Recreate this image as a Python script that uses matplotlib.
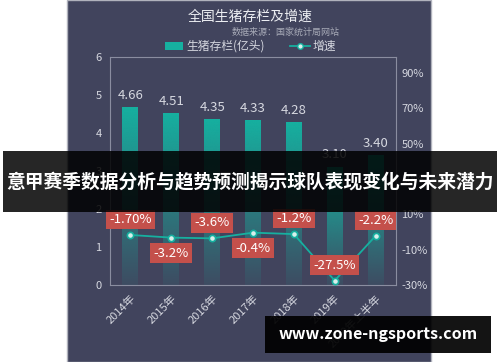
import numpy as np
import matplotlib.pyplot as plt
from matplotlib.patches import Rectangle
from matplotlib.lines import Line2D

plt.rcParams['font.family'] = ['Noto Sans CJK SC', 'DejaVu Sans']

years = ['2014年', '2015年', '2016年', '2017年', '2018年', '2019年', '2020年上半年']
stock = [4.66, 4.51, 4.35, 4.33, 4.28, 3.10, 3.40]
growth = [-1.7, -3.2, -3.6, -0.4, -1.2, -27.5, -2.2]
growth_labels = ['-1.70%', '-3.2%', '-3.6%', '-0.4%', '-1.2%', '-27.5%', '-2.2%']
label_above = [True, False, True, False, True, True, True]
left_ticks = [0, 1, 2, 3, 4, 5, 6]
right_ticks = [-30, -10, 10, 30, 50, 70, 90]

PANEL = '#41445d'
TEAL = '#16b0a0'
TXT = '#d6d8e0'
RED = '#c4504b'


def main():
    fig = plt.figure(figsize=(5, 3.62), dpi=100)
    fig.patch.set_facecolor('white')
    fig.patches.append(Rectangle((0.134, 0.0), 0.728, 1.0, transform=fig.transFigure,
                                 facecolor=PANEL, edgecolor='#b0b2bc', lw=1.0, zorder=-5))

    ax = fig.add_axes([0.22, 0.2127, 0.572, 0.63])
    ax.set_facecolor('none')
    x = np.arange(len(years))
    w = 0.39

    # gradient bars
    grad = np.zeros((100, 1, 4))
    rgb = np.array([0x16, 0xb0, 0xa0]) / 255
    grad[:, 0, :3] = rgb
    grad[:, 0, 3] = np.linspace(1.0, 0.08, 100)
    for xi, v in zip(x, stock):
        ax.imshow(grad, extent=(xi - w / 2, xi + w / 2, 0, v), aspect='auto',
                  interpolation='bicubic', zorder=2)
        ax.text(xi, v + 0.15, f'{v:.2f}', ha='center', va='bottom', color=TXT, fontsize=9.5)
    ax.set_xlim(-0.5, len(years) - 0.5)
    ax.set_ylim(0, 6)

    ax.set_yticks(left_ticks)
    ax.set_xticks(x)
    ax.set_xticklabels(years, rotation=45, ha='right', rotation_mode='anchor')
    ax.tick_params(colors=TXT, labelsize=8, length=0, pad=6)
    for s in ax.spines.values():
        s.set_color('#8a8da0')
        s.set_linewidth(0.8)

    ax2 = ax.twinx()
    ax2.set_ylim(-30, 99)
    ax2.set_yticks(right_ticks)
    ax2.set_yticklabels([f'{t}%' for t in right_ticks])
    ax2.tick_params(colors=TXT, labelsize=8, length=0, pad=4)
    for s in ax2.spines.values():
        s.set_visible(False)
    ax2.plot(x, growth, color=TEAL, lw=1.3, marker='o', markersize=4.5,
             markerfacecolor='#d8f0ec', markeredgecolor=TEAL, markeredgewidth=1.2, zorder=4)
    for xi, g, lab, up in zip(x, growth, growth_labels, label_above):
        ax2.annotate(lab, (xi, g), xytext=(0, 6.5 if up else -6.5), textcoords='offset points',
                     ha='center', va='bottom' if up else 'top', color='white', fontsize=9.5,
                     bbox=dict(boxstyle='square,pad=0.25', fc=RED, ec='none'), zorder=5)

    fig.text(0.5, 0.953, '全国生猪存栏及增速', ha='center', va='center', color='#eceef2', fontsize=10)
    fig.text(0.68, 0.91, '数据来源：国家统计局网站', ha='right', va='center', color='#a8abb8', fontsize=6.5)
    # legend
    fig.patches.append(Rectangle((0.33, 0.862), 0.035, 0.022, transform=fig.transFigure,
                                 facecolor=TEAL, edgecolor='none'))
    fig.text(0.373, 0.872, '生猪存栏(亿头)', ha='left', va='center', color=TXT, fontsize=8.5)
    fig.lines.append(Line2D([0.58, 0.62], [0.873, 0.873], transform=fig.transFigure, color=TEAL,
                            lw=1.3))
    fig.lines.append(Line2D([0.60], [0.873], transform=fig.transFigure, color=TEAL, marker='o',
                            markersize=4, markerfacecolor='#d8f0ec', markeredgewidth=1))
    fig.text(0.625, 0.872, '增速', ha='left', va='center', color=TXT, fontsize=8.5)

    # overlay banners
    fig.patches.append(Rectangle((0.006, 0.414), 0.988, 0.169, transform=fig.transFigure,
                                 facecolor='black', alpha=0.85, edgecolor='none', zorder=10))
    fig.text(0.5, 0.497, '意甲赛季数据分析与趋势预测揭示球队表现变化与未来潜力', ha='center', va='center',
             color='white', fontsize=13.5, fontweight='bold', zorder=11)
    fig.patches.append(Rectangle((0.53, 0.025), 0.452, 0.102, transform=fig.transFigure,
                                 facecolor='black', alpha=0.92, edgecolor='none', zorder=10))
    fig.text(0.756, 0.076, 'www.zone-ngsports.com', ha='center', va='center',
             color='white', fontsize=11.5, fontweight='bold', zorder=11)

    fig.savefig('out.png', dpi=100)


if __name__ == '__main__':
    main()
